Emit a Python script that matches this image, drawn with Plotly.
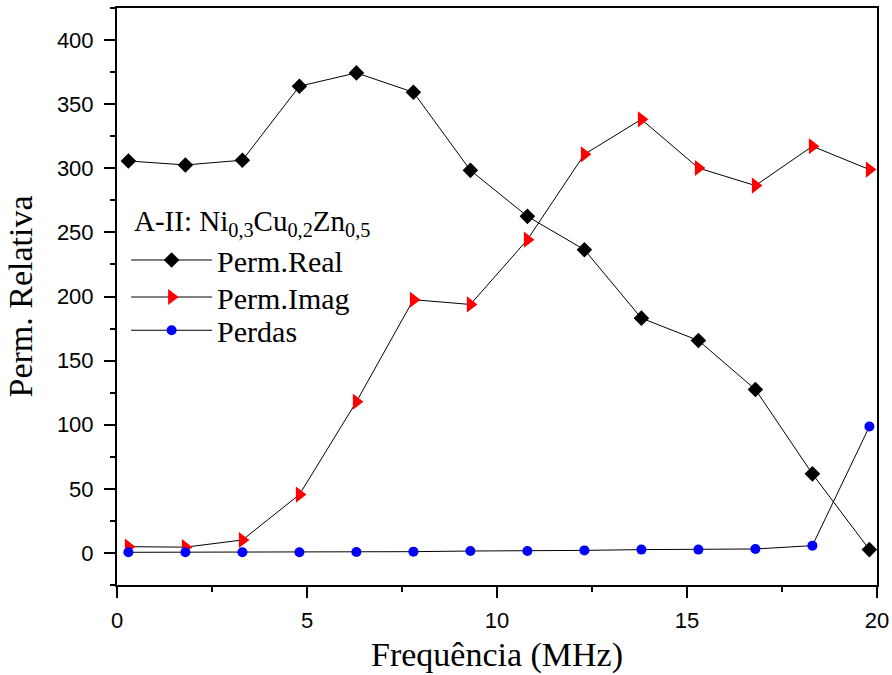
import plotly.graph_objects as go

# Frequency points (MHz)
freq = [0.3, 1.8, 3.3, 4.8, 6.3, 7.8, 9.3, 10.8, 12.3, 13.8, 15.3, 16.8, 18.3, 19.8]

# Relative permeability: real part, imaginary part and losses
perm_real = [305.7, 302.6, 306.3, 364.0, 374.4, 359.3, 298.4, 262.5, 236.5, 183.1, 165.7, 127.5, 61.7, 2.6]
perm_imag = [4.9, 4.5, 10.1, 45.5, 117.9, 197.5, 193.8, 244.3, 310.9, 338.2, 300.2, 286.5, 317.2, 299.0]
perdas = [0.5, 0.5, 0.5, 0.6, 0.8, 1.0, 1.5, 1.5, 2.0, 2.6, 2.6, 3.1, 5.7, 98.6]

sample_title = "A-II: Ni<sub>0,3</sub>Cu<sub>0,2</sub>Zn<sub>0,5</sub>"

serif = "Liberation Serif, Times New Roman, serif"
sans = "Liberation Sans, Arial, sans-serif"

fig = go.Figure()
fig.add_trace(go.Scatter(
    x=freq, y=perm_real, name="Perm.Real", mode="lines+markers",
    line=dict(color="black", width=1),
    marker=dict(symbol="diamond", size=12, color="black"),
    legend="legend", showlegend=True,
))
fig.add_trace(go.Scatter(
    x=freq, y=perm_imag, name="Perm.Imag", mode="lines+markers",
    line=dict(color="black", width=1),
    marker=dict(symbol="triangle-right", size=14, color="red"),
    legend="legend2", showlegend=True,
))
fig.add_trace(go.Scatter(
    x=freq, y=perdas, name="Perdas", mode="lines+markers",
    line=dict(color="black", width=1),
    marker=dict(symbol="circle", size=10, color="blue"),
    legend="legend3", showlegend=True,
))

axis_common = dict(
    showline=True, linecolor="black", linewidth=2, mirror=True,
    ticks="outside", ticklen=11, tickwidth=2, tickcolor="black",
    showgrid=False, zeroline=False, automargin=False,
    tickfont=dict(family=sans, size=22, color="black"),
)

fig.update_xaxes(
    range=[0, 20], tick0=0, dtick=5,
    minor=dict(ticks="outside", ticklen=5, tickwidth=2, tickcolor="black", dtick=2.5, showgrid=False),
    title=dict(text="Frequência (MHz)", font=dict(family=serif, size=34, color="black"), standoff=10),
    ticklabelstandoff=4,
    **axis_common,
)
fig.update_yaxes(
    range=[-25, 425], tick0=0, dtick=50,
    minor=dict(ticks="outside", ticklen=5, tickwidth=2, tickcolor="black", dtick=25, showgrid=False),
    title=dict(text="Perm. Relativa", font=dict(family=serif, size=34, color="black"), standoff=14),
    ticklabelstandoff=6,
    **axis_common,
)

legend_common = dict(
    font=dict(family=serif, size=30, color="black"),
    x=0.012, xanchor="left", yanchor="middle",
    bgcolor="rgba(0,0,0,0)", borderwidth=0, itemwidth=81,
)

fig.update_layout(
    width=892, height=675,
    margin=dict(l=117, r=15, t=8, b=90),
    paper_bgcolor="white", plot_bgcolor="white",
    showlegend=True,
    legend=dict(y=0.5633, **legend_common),
    legend2=dict(y=0.4991, **legend_common),
    legend3=dict(y=0.4415, **legend_common),
    annotations=[dict(
        text=sample_title, xref="paper", yref="paper",
        x=0.0197, y=0.628, xanchor="left", yanchor="middle",
        showarrow=False, font=dict(family=serif, size=29, color="black"),
    )],
)

fig.write_html("out.html")
